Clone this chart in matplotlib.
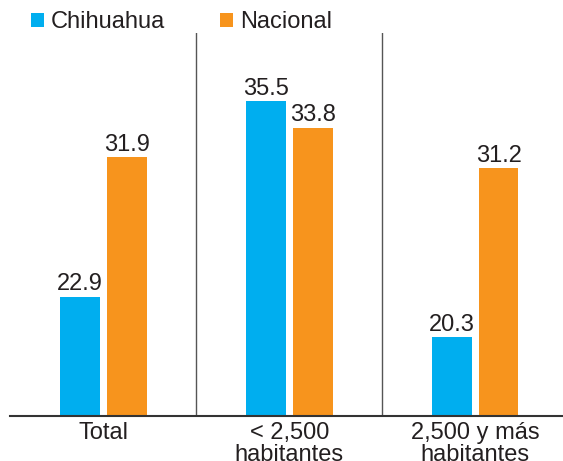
import matplotlib.pyplot as plt
import numpy as np

groups = ["Total", "< 2,500\nhabitantes", "2,500 y más\nhabitantes"]
chihuahua = [22.9, 35.5, 20.3]
nacional = [31.9, 33.8, 31.2]

blue = "#00AEEF"
orange = "#F7941D"
text_color = "#231F20"

plt.rcParams["font.family"] = ["Liberation Sans Narrow", "Liberation Sans", "DejaVu Sans"]

fig = plt.figure(figsize=(5.63, 4.61), dpi=100)
ax = fig.add_axes([10 / 563, 45 / 461, 553 / 563, 383 / 461])

x = np.arange(len(groups))
width = 0.215
offset = 0.126

b1 = ax.bar(x - offset, chihuahua, width, color=blue, label="Chihuahua")
b2 = ax.bar(x + offset, nacional, width, color=orange, label="Nacional")

for bars, vals in [(b1, chihuahua), (b2, nacional)]:
    for rect, v in zip(bars, vals):
        ax.annotate(f"{v:.1f}", (rect.get_x() + rect.get_width() / 2, v),
                    xytext=(0, 4.5), textcoords="offset points",
                    ha="center", va="baseline", fontsize=17, color=text_color)

# group separators
for sep in [0.5, 1.5]:
    ax.axvline(sep, color="#555555", linewidth=1)

ax.set_xlim(-0.503, 2.473)
ax.set_ylim(15.2, 39.9)

ax.set_xticks(x)
ax.set_xticklabels(groups, fontsize=17, color=text_color, linespacing=1.02)
ax.tick_params(axis="x", length=0, pad=4)
ax.set_yticks([])

for s in ["top", "right", "left"]:
    ax.spines[s].set_visible(False)
ax.spines["bottom"].set_color("#333333")
ax.spines["bottom"].set_linewidth(1.5)

fig.legend(handles=[b1, b2], loc="center left", bbox_to_anchor=(31 / 563, 1 - 22 / 461),
           ncol=2, frameon=False, fontsize=17, handlelength=0.55, handleheight=0.55,
           handletextpad=0.3, columnspacing=2.3, borderpad=0, borderaxespad=0,
           labelcolor=text_color)

plt.savefig("out.png", dpi=100)
plt.close()
